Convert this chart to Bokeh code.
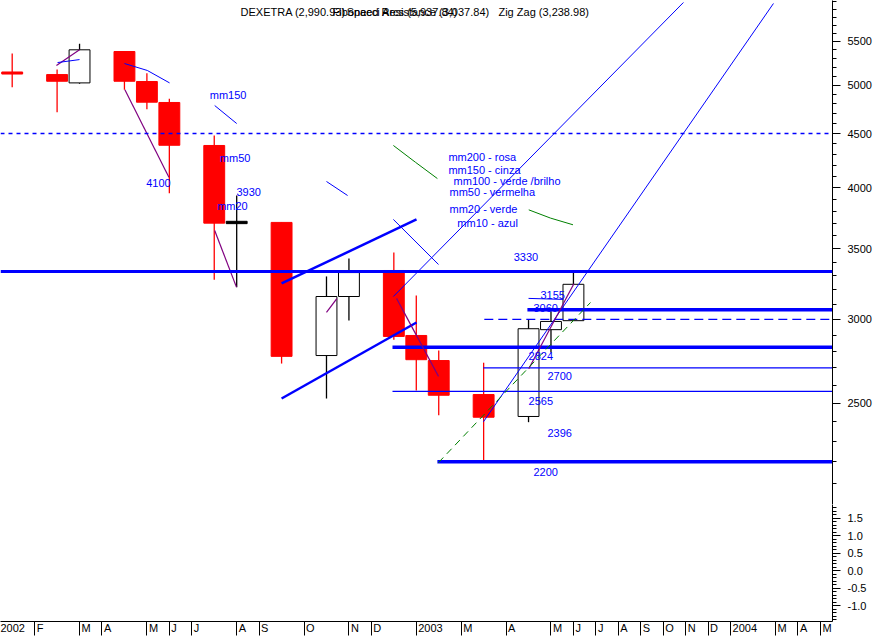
from bokeh.plotting import figure
from bokeh.models import (Range1d, FixedTicker, NumeralTickFormatter, Span, Label,
                          ColumnDataSource, AllLabels)
from bokeh.layouts import column
from bokeh.core.properties import value
from bokeh.embed import file_html
from bokeh.resources import INLINE

# ---------------- data ----------------
# x positions are bar slots on the chart's time axis
candle_slot = [0, 2, 3, 5, 6, 7, 9, 10, 12, 14, 15, 17, 18, 19, 21, 23, 24, 25]
opens  = [5146, 5117, 5025, 5381, 5040, 4815, 4384, 3697, 3707, 2773, 3154, 3338, 2897, 2743, 2547, 2428, 2934, 2992]
highs  = [5357, 5174, 5472, 5381, 5132, 4854, 4481, 3931, 3707, 3295, 3426, 3472, 3161, 2804, 2730, 2998, 3055, 3326]
lows   = [4978, 4714, 5015, 4950, 4745, 3951, 3271, 3219, 2725, 2525, 2994, 2870, 2569, 2435, 2206, 2398, 2792, 2990]
closes = [5123, 5043, 5401, 5043, 4818, 4386, 3701, 3716, 2768, 3154, 3323, 2891, 2748, 2543, 2424, 2940, 2987, 3239]

month_slot   = [-1, 1, 3, 4, 6, 7, 8, 10, 11, 13, 15, 16, 18, 20, 22, 24, 25, 26, 27, 28, 29, 30, 31, 32, 34, 35, 36]
month_labels = ["2002", "F", "M", "A", "M", "J", "J", "A", "S", "O", "N", "D", "2003", "M", "A", "M", "J",
                "J", "A", "S", "O", "N", "D", "2004", "M", "A", "M"]

price_ticks = [2500, 3000, 3500, 4000, 4500, 5000, 5500]
price_minor = list(range(2000, 6101, 100))
ind_ticks = [-1.0, -0.5, 0.0, 0.5, 1.0, 1.5]
ind_minor = [-1.4, -1.3, -1.2, -1.1, -1.0, -0.9, -0.8, -0.7, -0.6, -0.5, -0.4, -0.3, -0.2, -0.1, 0.0,
             0.1, 0.2, 0.3, 0.4, 0.5, 0.6, 0.7, 0.8, 0.9, 1.0, 1.1, 1.2, 1.3, 1.4, 1.5, 1.6, 1.7, 1.8]

# horizontal support / resistance levels
full_dashed_level = 4500
full_thick_level = 3330
thick_levels = [3065, 2824, 2200]
thick_level_start = [22.95, 16.94, 18.94]
thin_levels = [2700, 2565]
thin_level_start = [20.99, 16.94]
dashed_levels = [3000]
dashed_level_start = [21.03]
level_end = 40

# trend lines (slot, price)
trend_xs = [[16.98, 29.9], [20.99, 33.91], [16.98, 18.99]]
trend_ys = [[3154, 5988], [2400, 5975], [3731, 3382]]
channel_xs = [[12.0, 18.01], [12.0, 18.01]]
channel_ys = [[3245, 3731], [2525, 2980]]

# zig-zag (purple)
zz_xs = [[1.97, 3.0], [5.02, 6.98], [9.02, 9.99], [14.0, 14.46], [17.12, 18.99], [23.01, 25.02]]
zz_ys = [[5220, 5401], [4950, 4091], [3642, 3219], [3046, 3139], [3141, 2650], [2694, 3243]]

# moving-average fragments
ma_blue_xs = [[2.02, 3.0], [5.0, 6.02, 7.01], [9.02, 10.0], [14.0, 14.94], [23.0, 24.55]]
ma_blue_ys = [[5253, 5287], [5242, 5163, 5025], [4783, 4599], [4053, 3931], [3141, 3134]]
ma_green_xs = [[16.98, 17.96, 18.94], [23.01, 23.98, 24.98]]
ma_green_ys = [[4384, 4227, 4079], [3810, 3742, 3688]]
ma_green_dash_x = [18.99, 25.76]
ma_green_dash_y = [2196, 3113]

# text annotations
level_text = ["3330", "3155", "3060", "2824", "2700", "2565", "2396", "2200"]
level_text_x = [22.34, 23.53, 23.22, 23.0, 23.84, 23.0, 23.84, 23.22]
level_text_y = [3435, 3161, 3073, 2773, 2650, 2514, 2341, 2150]

note_text = ["mm150", "mm50", "4100", "3930", "mm20"]
note_x = [8.8, 9.25, 5.97, 9.99, 9.13]
note_y = [4889, 4268, 4044, 3957, 3838]

legend_text = ["mm200 - rosa", "mm150 - cinza", "mm100 - verde /brilho", "mm50 - vermelha",
               "mm20 - verde", "mm10 - azul"]
legend_x = [19.43, 19.43, 19.66, 19.48, 19.48, 19.83]
legend_y = [4273, 4154, 4053, 3957, 3813, 3706]

title_texts = ["DEXETRA (2,990.93)", "Fibonacci Arcs (5,937.84)", "Speed Resistance (3,037.84)",
               "Zig Zag (3,238.98)"]
title_x = [10.17, 14.27, 14.9, 21.66]
title_y = 5863

# ---------------- styles ----------------
FONT = "Liberation Sans"
BLUE = "#0000ff"
RED = "#ff0000"
PURPLE = "#800080"
GREEN = "#008000"

X0, X1 = -0.521, 36.54
FRAME_W = 832
X_RANGE = Range1d(X0, X1)

top = figure(frame_width=FRAME_W, frame_height=504, x_range=X_RANGE,
             y_range=Range1d(2004, 6014), y_axis_type="log", y_axis_location="right",
             x_axis_location=None, output_backend="svg", toolbar_location=None,
             min_border=0, outline_line_color=None, background_fill_color="white",
             border_fill_color="white")
top.grid.visible = False

ya = top.yaxis[0]
ya.ticker = FixedTicker(ticks=price_ticks, minor_ticks=price_minor)
ya.formatter = NumeralTickFormatter(format="0")
ya.major_tick_out = 8
ya.major_tick_in = 0
ya.minor_tick_out = 4
ya.minor_tick_in = 0
ya.major_label_standoff = 7
ya.major_label_text_font = FONT
ya.major_label_text_font_size = "11px"
ya.major_label_text_color = "black"
ya.axis_line_color = "black"
ya.major_tick_line_color = "black"
ya.minor_tick_line_color = "black"

# candles
up = [c >= o for o, c in zip(opens, closes)]
doji = [abs(c - o) / o < 0.006 for o, c in zip(opens, closes)]
line_col = ["black" if u else RED for u in up]
fill_col = [lc if (d or not u) else "white" for u, d, lc in zip(up, doji, line_col)]
src = ColumnDataSource(dict(
    x=candle_slot, high=highs, low=lows,
    top=[max(o, c) for o, c in zip(opens, closes)],
    bottom=[min(o, c) for o, c in zip(opens, closes)],
    lc=line_col, fc=fill_col))
top.segment(x0="x", y0="low", x1="x", y1="high", source=src, line_color="lc", line_width=1.3)
top.vbar(x="x", top="top", bottom="bottom", width=0.93, source=src,
         fill_color="fc", line_color="lc", line_width=1)

# levels
top.add_layout(Span(location=full_dashed_level, dimension="width", line_color=BLUE,
                    line_width=1.3, line_dash="4 4"))
top.add_layout(Span(location=full_thick_level, dimension="width", line_color=BLUE, line_width=3))
top.segment(x0=thick_level_start, y0=thick_levels, x1=[level_end] * len(thick_levels),
            y1=thick_levels, line_color=BLUE, line_width=3.5)
top.segment(x0=thin_level_start, y0=thin_levels, x1=[level_end] * len(thin_levels),
            y1=thin_levels, line_color=BLUE, line_width=1.2)
top.segment(x0=dashed_level_start, y0=dashed_levels, x1=[level_end] * len(dashed_levels),
            y1=dashed_levels, line_color=BLUE, line_width=1.2, line_dash="9 5")

# lines
top.multi_line(xs=trend_xs, ys=trend_ys, line_color=BLUE, line_width=1)
top.multi_line(xs=channel_xs, ys=channel_ys, line_color=BLUE, line_width=2.5)
top.multi_line(xs=zz_xs, ys=zz_ys, line_color=PURPLE, line_width=1.2)
top.multi_line(xs=ma_blue_xs, ys=ma_blue_ys, line_color=BLUE, line_width=1)
top.multi_line(xs=ma_green_xs, ys=ma_green_ys, line_color=GREEN, line_width=1)
top.line(ma_green_dash_x, ma_green_dash_y, line_color=GREEN, line_width=1, line_dash="7 5")

# texts
for xs, ys, ts in [(level_text_x, level_text_y, level_text),
                   (note_x, note_y, note_text),
                   (legend_x, legend_y, legend_text)]:
    top.text(x=xs, y=ys, text=ts, text_color=BLUE, text_font=value(FONT),
             text_font_size="11px", text_align="left", text_baseline="middle")

for tx, tt in zip(title_x, title_texts):
    top.add_layout(Label(x=tx, y=title_y, text=tt, text_font=FONT, text_font_size="11px",
                         text_color="black", text_baseline="middle", text_align="left"))

# lower indicator panel
bot = figure(frame_width=FRAME_W, frame_height=117, x_range=X_RANGE,
             y_range=Range1d(-1.457, 1.886), y_axis_location="right",
             output_backend="svg", toolbar_location=None, min_border=0, min_border_bottom=15,
             outline_line_color=None, background_fill_color="white", border_fill_color="white")
bot.grid.visible = False
yb = bot.yaxis[0]
yb.ticker = FixedTicker(ticks=ind_ticks, minor_ticks=ind_minor)
yb.formatter = NumeralTickFormatter(format="0.0")
yb.major_tick_out = 8
yb.major_tick_in = 0
yb.minor_tick_out = 4
yb.minor_tick_in = 0
yb.major_label_standoff = 7
yb.major_label_text_font = FONT
yb.major_label_text_font_size = "11px"
yb.major_label_text_color = "black"

# month axis: tick marks at the month slots (drawn as minor ticks), labels set just
# to the right of each tick mark (major ticks of zero length at the label centres)
CHAR_W = {"F": 6.7, "M": 9.2, "A": 7.3, "J": 5.5, "S": 7.3, "O": 8.6, "N": 7.9, "D": 7.9}
SLOT_PX = FRAME_W / (X1 - X0)


def text_w(s):
    return sum(CHAR_W.get(c, 6.1) for c in s)


label_pos = [k + (2 + text_w(t) / 2) / SLOT_PX for k, t in zip(month_slot, month_labels)]
xb = bot.xaxis[0]
xb.ticker = FixedTicker(ticks=label_pos, minor_ticks=month_slot)
xb.major_label_overrides = {p: t for p, t in zip(label_pos, month_labels)}
xb.major_label_policy = AllLabels()
xb.major_tick_out = 0
xb.major_tick_in = 0
xb.minor_tick_out = 14
xb.minor_tick_in = 0
xb.major_label_standoff = -14
xb.major_label_text_font = FONT
xb.major_label_text_font_size = "11px"
xb.major_label_text_color = "black"
xb.axis_line_color = "black"
xb.minor_tick_line_color = "black"

layout = column(top, bot, spacing=0)
open("out.html", "w").write(file_html(layout, INLINE))
